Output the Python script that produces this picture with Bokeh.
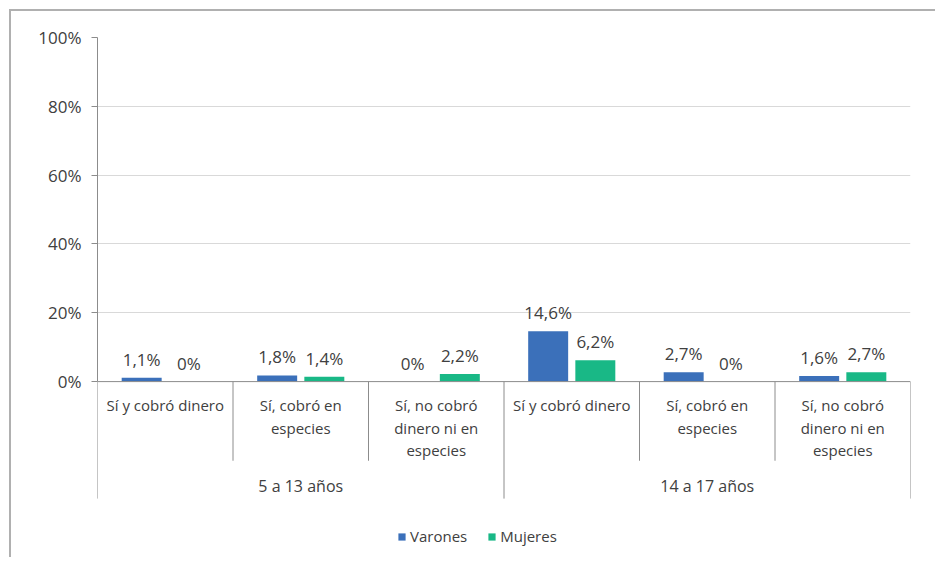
from bokeh.plotting import figure
from bokeh.models import (ColumnDataSource, FixedTicker, CustomJSTickFormatter, Span,
                          Range1d, Legend, LegendItem, LinearAxis, Grid)
from bokeh.core.properties import value
from bokeh.embed import file_html
from bokeh.resources import INLINE

# ---- data ----
groups = ["5 a 13 años", "14 a 17 años"]
subcats = ["Sí y cobró dinero", "Sí, cobró en\nespecies", "Sí, no cobró\ndinero ni en\nespecies"]
series_names = ["Varones", "Mujeres"]
varones = [1.1, 1.8, 0.0, 14.6, 2.7, 1.6]
mujeres = [0.0, 1.4, 2.2, 6.2, 0.0, 2.7]
y_ticks = [0, 20, 40, 60, 80, 100]

# ---- style ----
FONT = "Open Sans"
TXT = "#404040"
C_V = "#3b70ba"
C_M = "#19b886"
AXIS_C = "#8c8c8c"
GRID_C = "#d9d9d9"

n = len(groups) * len(subcats)
centers = [i + 0.5 for i in range(n)]
bar_w = 0.295
off = 0.174


def fmt(v):
    return "0%" if v == 0 else (f"{v:.1f}".replace(".", ",") + "%")


p = figure(width=926, height=548, output_backend="svg", toolbar_location=None,
           x_range=Range1d(0, n), y_range=Range1d(-51.7, 100),
           x_axis_location=None, y_axis_location=None,
           min_border_left=86, min_border_right=27, min_border_top=26, min_border_bottom=0,
           background_fill_color="white", border_fill_color="white")
p.outline_line_color = None
p.styles = {"margin-left": "9px", "margin-top": "9px",
            "border-top": "2px solid #b0b0b0", "border-left": "2px solid #b0b0b0"}

# y axis
yax = LinearAxis(bounds=(0, 100))
yax.ticker = FixedTicker(ticks=y_ticks)
yax.formatter = CustomJSTickFormatter(code="return tick + '%';")
yax.axis_line_color = AXIS_C
yax.major_tick_line_color = AXIS_C
yax.major_tick_in = 0
yax.major_tick_out = 6
yax.minor_tick_line_color = None
yax.major_label_text_font = FONT
yax.major_label_text_font_size = "17px"
yax.major_label_text_color = TXT
yax.major_label_standoff = 10
p.add_layout(yax, "left")

p.xgrid.visible = False
p.ygrid.visible = False
g = Grid(dimension=1, ticker=FixedTicker(ticks=y_ticks[1:]))
g.grid_line_color = GRID_C
g.grid_line_width = 1
p.add_layout(g)

# x axis line at 0
p.add_layout(Span(location=0, dimension="width", line_color=AXIS_C, line_width=1))

# bars
src = ColumnDataSource(dict(
    xv=[c - off for c in centers], xm=[c + off for c in centers],
    v=varones, m=mujeres,
    lv=[fmt(v) for v in varones], lm=[fmt(v) for v in mujeres]))
rv = p.vbar(x="xv", top="v", bottom=0, width=bar_w, source=src, fill_color=C_V, line_color=None)
rm = p.vbar(x="xm", top="m", bottom=0, width=bar_w, source=src, fill_color=C_M, line_color=None)

for xcol, ycol, lcol in (("xv", "v", "lv"), ("xm", "m", "lm")):
    p.text(x=xcol, y=ycol, text=lcol, source=src, text_align="center", text_baseline="bottom",
           y_offset=-7, text_font=value(FONT), text_font_size="17px", text_color=TXT)

# category labels
cat_t = subcats * len(groups)
p.text(x=centers, y=[-4.0] * n, text=cat_t, text_align="center", text_baseline="top",
       text_font=value(FONT), text_font_size="15px", text_color=TXT, text_line_height=1.12)

# group labels
gx = [len(subcats) * (i + 0.5) for i in range(len(groups))]
p.text(x=gx, y=[-30.2] * len(groups), text=groups, text_align="center", text_baseline="middle",
       text_font=value(FONT), text_font_size="16px", text_color=TXT)

# separators
minor_x = [i for i in range(1, n) if i % len(subcats) != 0]
major_x = [i for i in range(0, n + 1) if i % len(subcats) == 0]
p.segment(x0=minor_x, y0=[0] * len(minor_x), x1=minor_x, y1=[-23] * len(minor_x),
          line_color=AXIS_C, line_width=1)
p.segment(x0=major_x, y0=[0] * len(major_x), x1=major_x, y1=[-34] * len(major_x),
          line_color=AXIS_C, line_width=1)

# legend
leg = Legend(items=[LegendItem(label=series_names[0], renderers=[rv]),
                    LegendItem(label=series_names[1], renderers=[rm])],
             orientation="horizontal", location=(300, 13),
             glyph_width=9, glyph_height=9, label_standoff=4, spacing=20,
             padding=0, margin=0, border_line_color=None, background_fill_alpha=0,
             label_text_font=FONT, label_text_font_size="15px", label_text_color=TXT)
p.add_layout(leg)

open("out.html", "w").write(file_html(p, INLINE))
